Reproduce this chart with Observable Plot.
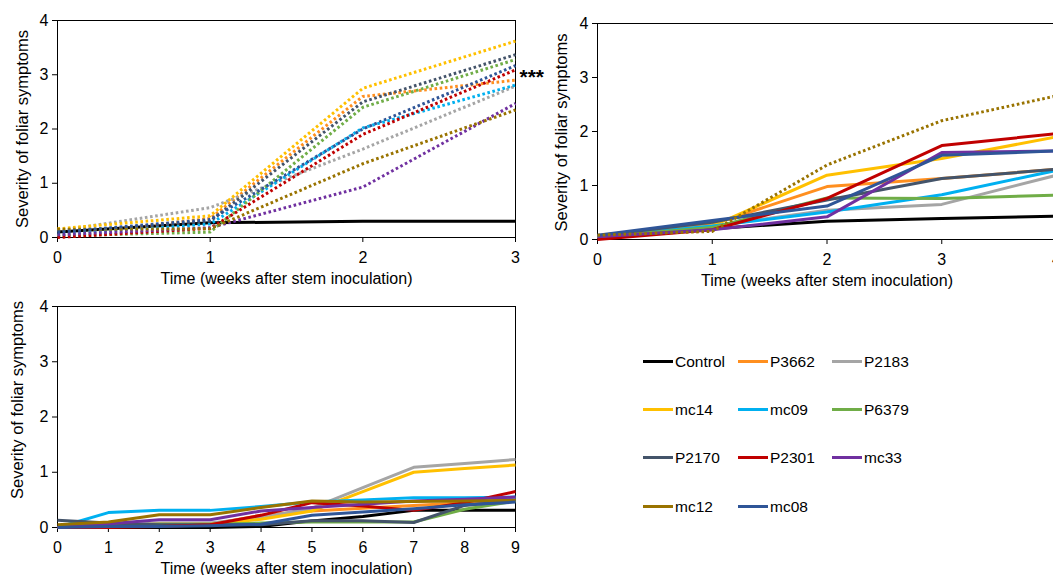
<!DOCTYPE html>
<html>
<head>
<meta charset="utf-8">
<script src="https://cdn.jsdelivr.net/npm/d3@7"></script>
<script src="https://cdn.jsdelivr.net/npm/@observablehq/plot@0.6"></script>
<style>
  html, body { margin: 0; padding: 0; background: #fff; overflow: hidden; }
  #root { position: relative; width: 1053px; height: 575px; overflow: hidden; font-family: "Liberation Sans", Arial, sans-serif; }
  .panel { position: absolute; }
  .legend-item { position: absolute; height: 20px; line-height: 20px; font-size: 15.5px; color: #000; white-space: nowrap; }
  .legend-item .swatch { display: inline-block; width: 30px; height: 3px; vertical-align: middle; margin-right: 2px; position: relative; top: -1px; }
</style>
</head>
<body>
<div id="root"></div>
<script>
// ---- data ----
const strains = ["Control", "P3662", "P2183", "mc14", "mc09", "P6379", "P2170", "P2301", "mc33", "mc12", "mc08"];
const colors  = ["#000000", "#FF8F1F", "#A5A5A5", "#FFC000", "#00B0F0", "#70AD47", "#44546A", "#C00000", "#7030A0", "#997300", "#2F5597"];

// Panel A: weeks 0-3 (dotted inoculated lines)
const weeksA = [0, 1, 2, 3];
const severityA = [
  [0.10, 0.27, 0.30, 0.30], // Control
  [0.03, 0.35, 2.60, 2.90], // P3662
  [0.12, 0.55, 1.63, 2.79], // P2183
  [0.16, 0.40, 2.75, 3.62], // mc14
  [0.05, 0.25, 2.02, 2.81], // mc09
  [0.03, 0.10, 2.40, 3.28], // P6379
  [0.10, 0.30, 2.50, 3.37], // P2170
  [0.00, 0.17, 1.90, 3.09], // P2301
  [0.05, 0.18, 0.93, 2.47], // mc33
  [0.15, 0.16, 1.36, 2.35], // mc12
  [0.10, 0.33, 2.00, 3.17]  // mc08
];
const dottedA = ["P3662", "P2183", "mc14", "mc09", "P6379", "P2170", "P2301", "mc33", "mc12", "mc08"];

// Panel B: weeks 0-4
const weeksB = [0, 1, 2, 3, 4];
const severityB = [
  [0.05, 0.20, 0.34, 0.39, 0.43], // Control
  [0.05, 0.28, 0.98, 1.13, 1.30], // P3662
  [0.05, 0.25, 0.54, 0.65, 1.19], // P2183
  [0.05, 0.25, 1.19, 1.50, 1.90], // mc14
  [0.05, 0.25, 0.51, 0.83, 1.28], // mc09
  [0.05, 0.22, 0.77, 0.76, 0.82], // P6379
  [0.07, 0.32, 0.73, 1.13, 1.30], // P2170
  [0.00, 0.18, 0.76, 1.74, 1.96], // P2301
  [0.05, 0.18, 0.42, 1.61, 1.64], // mc33
  [0.08, 0.15, 1.38, 2.20, 2.66], // mc12
  [0.08, 0.35, 0.62, 1.56, 1.64]  // mc08
];
const dottedB = ["mc12"];

// Panel C: weeks 0-9
const weeksC = [0, 1, 2, 3, 4, 5, 6, 7, 8, 9];
const severityC = [
  [0.00, 0.00, 0.00, 0.00, 0.02, 0.12, 0.20, 0.31, 0.31, 0.31], // Control
  [0.00, 0.03, 0.06, 0.06, 0.22, 0.30, 0.35, 0.40, 0.45, 0.52], // P3662
  [0.00, 0.04, 0.08, 0.08, 0.18, 0.35, 0.72, 1.09, 1.16, 1.23], // P2183
  [0.00, 0.04, 0.06, 0.06, 0.15, 0.30, 0.65, 1.00, 1.07, 1.13], // mc14
  [0.00, 0.27, 0.31, 0.31, 0.38, 0.46, 0.50, 0.54, 0.54, 0.55], // mc09
  [0.00, 0.03, 0.06, 0.06, 0.08, 0.10, 0.10, 0.10, 0.33, 0.48], // P6379
  [0.13, 0.08, 0.05, 0.05, 0.05, 0.12, 0.12, 0.09, 0.40, 0.49], // P2170
  [0.00, 0.00, 0.02, 0.05, 0.22, 0.45, 0.39, 0.31, 0.45, 0.65], // P2301
  [0.00, 0.07, 0.14, 0.14, 0.30, 0.36, 0.42, 0.48, 0.51, 0.55], // mc33
  [0.05, 0.10, 0.23, 0.23, 0.36, 0.48, 0.46, 0.47, 0.48, 0.49], // mc12
  [0.00, 0.02, 0.02, 0.03, 0.06, 0.22, 0.28, 0.34, 0.41, 0.46]  // mc08
];
const dottedC = [];

const yTicks = [0, 1, 2, 3, 4];
const xLabel = "Time (weeks after stem inoculation)";
const yLabel = "Severity of foliar symptoms";

// ---- helpers ----
function rowsFor(weeks, severity) {
  const rows = [];
  strains.forEach((s, i) => weeks.forEach((w, j) => rows.push({strain: s, week: w, severity: severity[i][j]})));
  return rows;
}

function panel({weeks, severity, dotted, left, top, width, height, margin, yLabelDx, yLabelDy, stars}) {
  const rows = rowsFor(weeks, severity);
  const solidRows = rows.filter(d => !dotted.includes(d.strain));
  const dottedRows = rows.filter(d => dotted.includes(d.strain));
  const xmax = weeks[weeks.length - 1];
  const marks = [
    Plot.frame({stroke: "#000", strokeWidth: 1}),
    Plot.axisX({ticks: weeks, tickFormat: d3.format("d"), tickSize: 5, tickPadding: 9, label: null, fontSize: 16}),
    Plot.axisY({ticks: yTicks, tickFormat: d3.format("d"), tickSize: 5, tickPadding: 4, label: null, fontSize: 16}),
    Plot.text([xLabel], {frameAnchor: "bottom", dy: 41, textAnchor: "middle", lineAnchor: "middle", fontSize: 16}),
    Plot.text([yLabel], {frameAnchor: "left", rotate: -90, dx: yLabelDx, dy: yLabelDy, textAnchor: "middle", lineAnchor: "middle", fontSize: 16.5}),
    Plot.line(solidRows, {x: "week", y: "severity", z: "strain", stroke: "strain", strokeWidth: 3, strokeLinejoin: "round", strokeLinecap: "butt"}),
    Plot.line(dottedRows, {x: "week", y: "severity", z: "strain", stroke: "strain", strokeWidth: 3, strokeLinecap: "butt", strokeDasharray: "2.6 2.6"})
  ];
  if (stars) {
    marks.push(Plot.text([stars], {x: () => xmax, y: () => stars.value, text: () => stars.label, dx: 4, dy: 4, textAnchor: "start", lineAnchor: "middle", fontSize: 21, fontWeight: "bold"}));
  }
  const svg = Plot.plot({
    width, height,
    marginLeft: margin[0], marginRight: margin[1], marginTop: margin[2], marginBottom: margin[3],
    style: {fontFamily: "'Liberation Sans', Arial, sans-serif", fontSize: "16px", color: "#000", background: "transparent", overflow: "visible", maxWidth: "none"},
    x: {domain: [0, xmax]},
    y: {domain: [0, 4]},
    color: {domain: strains, range: colors},
    marks
  });
  const div = document.createElement("div");
  div.className = "panel";
  div.style.left = left + "px";
  div.style.top = top + "px";
  div.style.width = width + "px";
  div.appendChild(svg);
  document.getElementById("root").appendChild(div);
}

panel({weeks: weeksA, severity: severityA, dotted: dottedA, left: 0, top: 0, width: 560, height: 290,
       margin: [57, 45, 20, 53], yLabelDx: -35, yLabelDy: 0, stars: {value: 3.02, label: "***"}});
panel({weeks: weeksB, severity: severityB, dotted: dottedB, left: 540, top: 0, width: 520, height: 290,
       margin: [57, 4, 23, 51], yLabelDx: -36, yLabelDy: 1});
panel({weeks: weeksC, severity: severityC, dotted: dottedC, left: 0, top: 290, width: 560, height: 290,
       margin: [57, 45, 16, 53], yLabelDx: -40, yLabelDy: -17});

// ---- legend ----
const legendCols = [643, 738, 832];
const legendRows = [362, 410, 458, 507];
strains.forEach((s, i) => {
  const item = document.createElement("div");
  item.className = "legend-item";
  item.style.left = legendCols[i % 3] + "px";
  item.style.top = (legendRows[Math.floor(i / 3)] - 10) + "px";
  const sw = document.createElement("span");
  sw.className = "swatch";
  sw.style.background = colors[i];
  item.appendChild(sw);
  item.appendChild(document.createTextNode(s));
  document.getElementById("root").appendChild(item);
});
</script>
</body>
</html>
